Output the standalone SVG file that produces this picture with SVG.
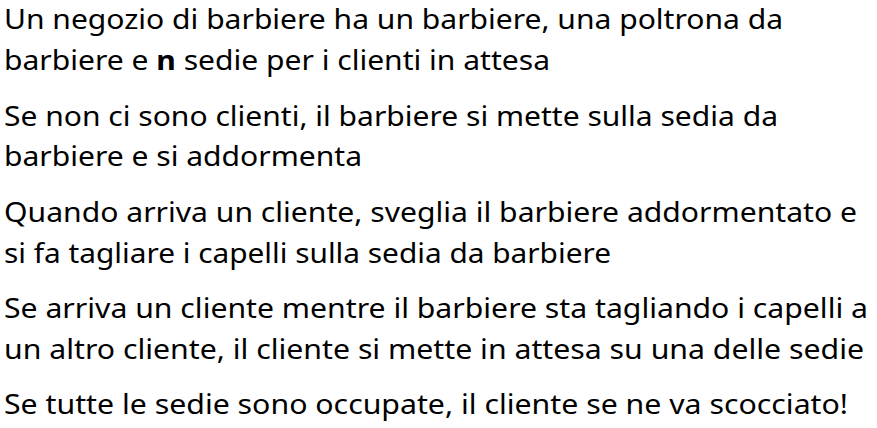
<svg xmlns="http://www.w3.org/2000/svg" width="877" height="428" viewBox="0 0 877 428">
<style>
text{font-family:"Noto Sans","Open Sans","DejaVu Sans",sans-serif;font-size:27px;fill:#000}
.b{font-weight:bold}
</style>
<rect width="877" height="428" fill="#fff"/>
<g id="p1">
<text x="4" y="29" textLength="779" lengthAdjust="spacingAndGlyphs">Un negozio di barbiere ha un barbiere, una poltrona da</text>
<text x="4" y="70" textLength="546" lengthAdjust="spacingAndGlyphs">barbiere e <tspan class="b">n</tspan> sedie per i clienti in attesa</text>
</g>
<g id="p2">
<text x="4" y="126" textLength="774" lengthAdjust="spacingAndGlyphs">Se non ci sono clienti, il barbiere si mette sulla sedia da</text>
<text x="4" y="166" textLength="358" lengthAdjust="spacingAndGlyphs">barbiere e si addormenta</text>
</g>
<g id="p3">
<text x="4" y="222" textLength="853" lengthAdjust="spacingAndGlyphs">Quando arriva un cliente, sveglia il barbiere addormentato e</text>
<text x="4" y="263" textLength="607" lengthAdjust="spacingAndGlyphs">si fa tagliare i capelli sulla sedia da barbiere</text>
</g>
<g id="p4">
<text x="4" y="318" textLength="864" lengthAdjust="spacingAndGlyphs">Se arriva un cliente mentre il barbiere sta tagliando i capelli a</text>
<text x="4" y="359" textLength="860" lengthAdjust="spacingAndGlyphs">un altro cliente, il cliente si mette in attesa su una delle sedie</text>
</g>
<g id="p5">
<text x="4" y="414" textLength="844" lengthAdjust="spacingAndGlyphs">Se tutte le sedie sono occupate, il cliente se ne va scocciato!</text>
</g>
</svg>
